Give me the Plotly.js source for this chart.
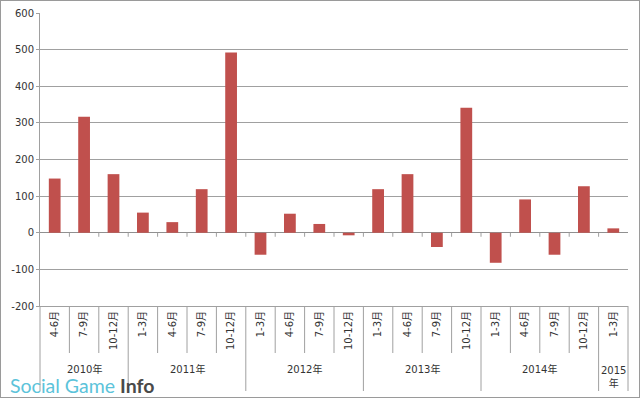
<!DOCTYPE html>
<html><head><meta charset="utf-8">
<script src="https://cdn.plot.ly/plotly-3.0.1.min.js"></script>
<style>html,body{margin:0;padding:0;background:#fff}#c{width:638px;height:396px;border:1px solid #9a9a9a}</style>
</head><body><div id="c"></div><script>
// Data
const yearOfBar = ['2010','2010','2010','2011','2011','2011','2011','2012','2012','2012','2012','2013','2013','2013','2013','2014','2014','2014','2014','2015'];
const quarters = ['4-6月','7-9月','10-12月','1-3月','4-6月','7-9月','10-12月','1-3月','4-6月','7-9月','10-12月','1-3月','4-6月','7-9月','10-12月','1-3月','4-6月','7-9月','10-12月','1-3月'];
const values = [148,317,160,55,29,119,492,-60,52,24,-7,119,160,-39,341,-82,91,-60,127,12];
const yearNames = ['2010','2011','2012','2013','2014','2015'];
const yearLabels = ['2010年','2011年','2012年','2013年','2014年','2015<br>年'];
const yTicks = [-200,-100,0,100,200,300,400,500,600];

const keys = yearOfBar.map((y,i)=>y+' '+quarters[i]);
const grey = '#a0a0a0';
const plotH = 396-12-91;

const shapes = [];
const pxToPaper = px => -px/plotH;
for (let i=1;i<keys.length;i++){
  const isYear = yearOfBar[i]!==yearOfBar[i-1];
  shapes.push({type:'line',xref:'x',yref:'paper',x0:i-0.5,x1:i-0.5,y0:0,y1:pxToPaper(isYear?85:47),line:{color:grey,width:1}});
  shapes.push({type:'line',xref:'x',yref:'y',x0:i-0.5,x1:i-0.5,y0:0,y1:-11,line:{color:grey,width:1}});
}
shapes.push({type:'line',xref:'paper',yref:'paper',x0:0,x1:0,y0:0,y1:pxToPaper(85),line:{color:grey,width:1}});
shapes.push({type:'line',xref:'paper',yref:'paper',x0:1,x1:1,y0:0,y1:pxToPaper(85),line:{color:grey,width:1}});

const annotations = [];
yearNames.forEach((y,k)=>{
  const idx = yearOfBar.map((v,i)=>v===y?i:-1).filter(i=>i>=0);
  const c = (idx[0]+idx[idx.length-1])/2;
  const multi = yearLabels[k].includes('<br>');
  annotations.push({xref:'x',yref:'paper',x:c,y:pxToPaper(multi?71:63),text:yearLabels[k],showarrow:false,
    xanchor:'center',yanchor:'middle',font:{family:'DejaVu Sans, Noto Sans CJK JP',size:10,color:'#333'}});
});
annotations.push({xref:'paper',yref:'paper',x:-0.052,y:pxToPaper(79),xanchor:'left',yanchor:'middle',showarrow:false,borderpad:0,
  text:'<span style="color:#5cc3da">Social Game</span> <b style="color:#4a4a4a">Info</b>',
  font:{family:'Lato, Open Sans, sans-serif',size:19.5}});

Plotly.newPlot('c',[{
  type:'bar',x:keys,y:values,marker:{color:'#c0504d'},hoverinfo:'skip'
}],{
  width:638,height:396,margin:{l:39,r:11,t:12,b:91},
  paper_bgcolor:'#fff',plot_bgcolor:'#fff',bargap:0.6,showlegend:false,
  xaxis:{type:'category',tickvals:keys,ticktext:quarters,tickangle:-90,showline:true,linecolor:grey,
    showgrid:false,ticks:'',automargin:false,tickfont:{family:'DejaVu Sans, Noto Sans CJK JP',size:10,color:'#333'}},
  yaxis:{range:[-200,600],tickvals:yTicks,ticktext:yTicks.map(String),gridcolor:grey,zeroline:true,zerolinecolor:'#909090',zerolinewidth:1,
    showline:true,linecolor:grey,ticks:'outside',ticklen:3,tickcolor:grey,automargin:false,
    tickfont:{family:'DejaVu Sans',size:10,color:'#333'}},
  shapes:shapes,annotations:annotations
},{displayModeBar:false,staticPlot:true});
</script></body></html>
